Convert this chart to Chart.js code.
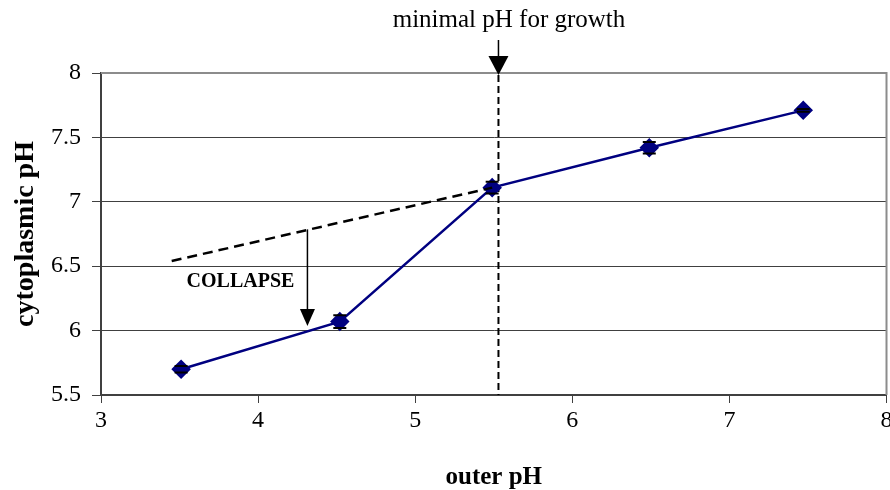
<!DOCTYPE html>
<html><head><meta charset="utf-8">
<script src="https://cdn.jsdelivr.net/npm/chart.js@4/dist/chart.umd.min.js"></script>
<style>html,body{margin:0;padding:0;background:#fff;overflow:hidden}#wrap{width:897px;height:490px}</style>
</head><body><div id="wrap"><canvas id="c" width="897" height="490"></canvas></div>
<script>
const outerPH = [3.51, 4.52, 5.49, 6.49, 7.47];
const cytoPH = [5.70, 6.07, 7.11, 7.42, 7.71];
const errPH = [0.025, 0.05, 0.045, 0.045, 0.01];
const extrapX = [3.45, 5.49];
const extrapY = [6.54, 7.11];
const minGrowthX = 5.53;
const collapseX = 4.314;
const collapseFromY = 6.786;
const collapseToY = 6.036;
const xTicks = [3, 4, 5, 6, 7, 8];
const yTicks = [5.5, 6, 6.5, 7, 7.5, 8];
const SERIF = '"Liberation Serif","Times New Roman",serif';

function arrowHead(ctx, x, y, w, h) {
  ctx.beginPath(); ctx.moveTo(x, y); ctx.lineTo(x - w/2, y - h); ctx.lineTo(x + w/2, y - h); ctx.closePath(); ctx.fill();
}

function errorBars(chart, caps) {
  const {ctx, scales: {x, y}} = chart;
  ctx.save(); ctx.strokeStyle = '#000'; ctx.lineWidth = 2;
  outerPH.forEach((v, i) => {
    const px = x.getPixelForValue(v);
    const top = y.getPixelForValue(cytoPH[i] + errPH[i]);
    const bot = y.getPixelForValue(cytoPH[i] - errPH[i]);
    ctx.beginPath();
    if (!caps) { ctx.moveTo(px, top); ctx.lineTo(px, bot); }
    else {
      ctx.moveTo(px - 6.5, top); ctx.lineTo(px + 6.5, top);
      ctx.moveTo(px - 6.5, bot); ctx.lineTo(px + 6.5, bot);
    }
    ctx.stroke();
  });
  ctx.restore();
}

const overlay = {
  id: 'overlay',
  beforeDatasetsDraw(chart) {
    const {ctx, scales: {x, y}, chartArea: a} = chart;
    ctx.save();
    // top & right border
    ctx.strokeStyle = '#8c8c8c'; ctx.lineWidth = 2;
    ctx.beginPath(); ctx.moveTo(a.left, a.top); ctx.lineTo(a.right, a.top); ctx.lineTo(a.right, a.bottom); ctx.stroke();
    // vertical dashed line
    const vx = x.getPixelForValue(minGrowthX);
    ctx.strokeStyle = '#000'; ctx.lineWidth = 2; ctx.setLineDash([7, 4]);
    ctx.beginPath(); ctx.moveTo(vx, a.top + 2); ctx.lineTo(vx, a.bottom); ctx.stroke();
    ctx.setLineDash([]);
    // arrow above
    ctx.lineWidth = 1.5;
    ctx.beginPath(); ctx.moveTo(vx, a.top - 33); ctx.lineTo(vx, a.top - 14); ctx.stroke();
    ctx.fillStyle = '#000'; arrowHead(ctx, vx, a.top + 2, 20, 19);
    ctx.font = '25px ' + SERIF; ctx.textAlign = 'center'; ctx.textBaseline = 'alphabetic';
    ctx.fillText('minimal pH for growth', 509, 27);
    // collapse arrow
    const cx = x.getPixelForValue(collapseX);
    const y1 = y.getPixelForValue(collapseFromY), y2 = y.getPixelForValue(collapseToY);
    ctx.lineWidth = 1.5;
    ctx.beginPath(); ctx.moveTo(cx, y1); ctx.lineTo(cx, y2 - 14); ctx.stroke();
    arrowHead(ctx, cx, y2, 15, 17);
    ctx.font = 'bold 20px ' + SERIF;
    ctx.fillText('COLLAPSE', 240.5, 287);
    ctx.restore();
    errorBars(chart, false);
  },
  afterDatasetsDraw(chart) {
    errorBars(chart, true);
  }
};

new Chart(document.getElementById('c'), {
  type: 'scatter',
  data: {
    datasets: [
      { data: extrapX.map((v, i) => ({x: v, y: extrapY[i]})), showLine: true, borderColor: '#000', borderWidth: 2.5, borderDash: [10, 6], pointRadius: 0 },
      { data: outerPH.map((v, i) => ({x: v, y: cytoPH[i]})), showLine: true, borderColor: '#000080', borderWidth: 2.5,
        pointStyle: 'rectRot', pointRadius: 8, pointBackgroundColor: '#000080', pointBorderColor: '#000080' }
    ]
  },
  options: {
    animation: false, responsive: false, devicePixelRatio: 1,
    layout: { padding: { top: 73, right: 4, left: 0, bottom: 0 } },
    plugins: { legend: { display: false }, tooltip: { enabled: false } },
    scales: {
      x: {
        type: 'linear', min: 3, max: 8,
        afterBuildTicks: s => { s.ticks = xTicks.map(v => ({value: v})); },
        afterFit: s => { s.height = 95; },
        grid: { drawOnChartArea: false, drawTicks: true, tickLength: 8, color: '#404040', tickWidth: 1 },
        border: { color: '#404040', width: 2 },
        ticks: { color: '#000', font: { family: SERIF, size: 24 }, padding: 3, maxRotation: 0, callback: v => String(v) },
        title: { display: true, text: 'outer pH', color: '#000', font: { family: SERIF, size: 25, weight: 'bold', lineHeight: 1.0 }, padding: { top: 0, bottom: 0 } }
      },
      y: {
        type: 'linear', min: 5.5, max: 8,
        afterBuildTicks: s => { s.ticks = yTicks.map(v => ({value: v})); },
        afterFit: s => { s.width = 101; },
        grid: { color: '#404040', lineWidth: 1, tickLength: 9, drawTicks: true },
        border: { color: '#404040', width: 2 },
        ticks: { color: '#000', font: { family: SERIF, size: 24 }, padding: 11, callback: v => String(v) },
        title: { display: true, text: 'cytoplasmic pH', color: '#000', font: { family: SERIF, size: 28, weight: 'bold' }, padding: { top: 9, bottom: 0 } }
      }
    }
  },
  plugins: [overlay]
});
</script></body></html>
